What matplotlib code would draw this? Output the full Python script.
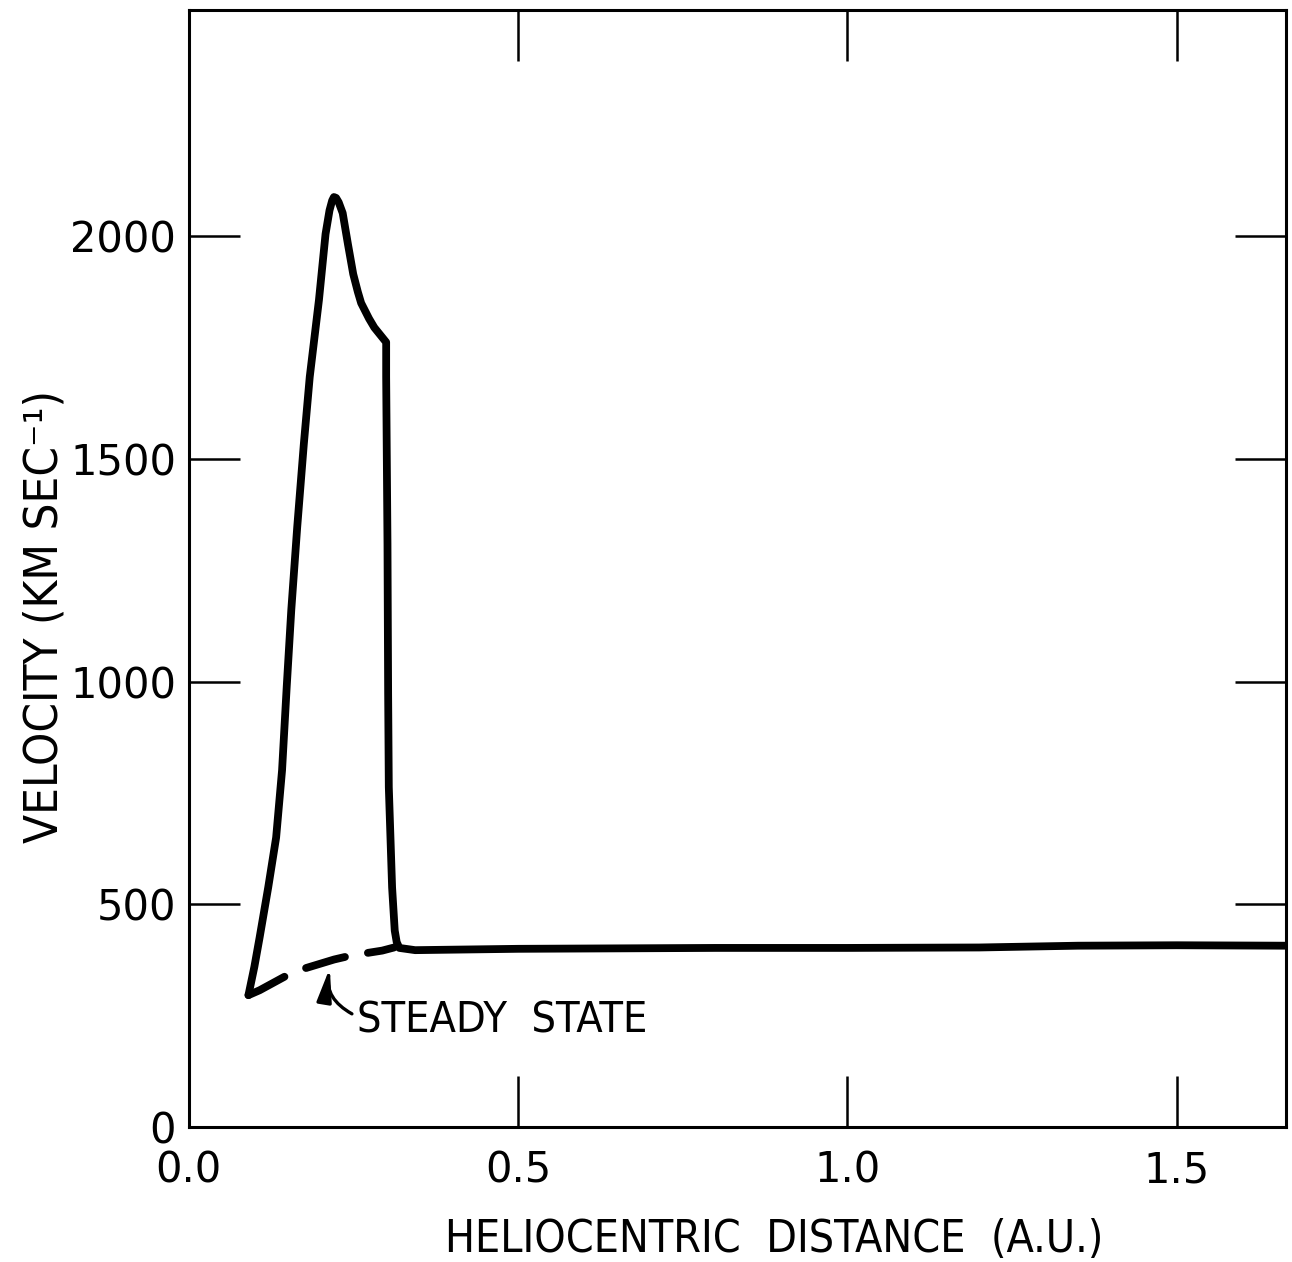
import matplotlib
matplotlib.use("Agg")
import matplotlib.pyplot as plt
from matplotlib import font_manager

# ---- data -------------------------------------------------------------
# Shock-driven disturbance: velocity vs heliocentric distance
dist_au = [0.091, 0.100, 0.108, 0.121, 0.133, 0.142, 0.149, 0.156, 0.165,
           0.175, 0.184, 0.198, 0.208, 0.214, 0.218, 0.2207, 0.224, 0.228,
           0.234, 0.242, 0.250, 0.257, 0.262, 0.274, 0.282, 0.294, 0.300,
           0.300, 0.302, 0.303, 0.304, 0.309, 0.313, 0.316, 0.320, 0.344,
           0.50, 0.80, 1.00, 1.20, 1.35, 1.50, 1.665]
velocity = [296, 360, 426, 538, 650, 801, 987, 1161, 1347,
            1533, 1684, 1857, 2005, 2058, 2080, 2088, 2086, 2076,
            2052, 1982, 1915, 1875, 1850, 1815, 1795, 1773, 1762,
            1684, 1309, 972, 763, 538, 441, 415, 402, 397,
            400, 402, 402, 403, 407, 408, 407]

# Undisturbed (steady state) solar wind profile
steady_au = [0.091, 0.108, 0.149, 0.172, 0.221, 0.247, 0.294, 0.312]
steady_vel = [296, 307, 340, 354, 376, 385, 396, 403]

x_ticks = [0.5, 1.0, 1.5]
x_tick_labels = ["0.0", "0.5", "1.0", "1.5"]
y_ticks = [500, 1000, 1500, 2000]
y_tick_labels = ["0", "500", "1000", "1500", "2000"]

# ---- fonts ------------------------------------------------------------
names = {f.name for f in font_manager.fontManager.ttflist}
if "Liberation Sans Narrow" in names:
    label_family = ["Liberation Sans Narrow", "DejaVu Sans"]
    label_stretch = "normal"
else:
    label_family = ["DejaVu Sans"]
    label_stretch = "condensed"

# ---- figure -----------------------------------------------------------
fig = plt.figure(figsize=(12.92, 12.62), dpi=100)
ax = fig.add_axes([0.1459, 0.1070, 0.8491, 0.8851])

ax.plot(dist_au, velocity, color="black", lw=5.6,
        solid_joinstyle="round", solid_capstyle="round")
ax.plot(steady_au, steady_vel, color="black", lw=5.6,
        dashes=(5.2, 3.0), dash_capstyle="round")

ax.set_xlim(0, 1.665)
ax.set_ylim(0, 2508)

for s in ax.spines.values():
    s.set_linewidth(2.2)

ax.set_xticks([0.0] + x_ticks)
ax.set_xticklabels(x_tick_labels)
ax.set_yticks([0] + y_ticks)
ax.set_yticklabels(y_tick_labels)
ax.tick_params(direction="in", length=37, width=1.8, top=True, right=True,
               labelsize=30, colors="black")
ax.tick_params(axis="x", pad=16)
ax.tick_params(axis="y", pad=9)

# Annotation for the dashed curve
ax.annotate("", xy=(0.2145, 357), xytext=(0.248, 254),
            arrowprops=dict(arrowstyle="-|>,head_length=1.0,head_width=0.22",
                            connectionstyle="arc3,rad=-0.35",
                            lw=2.4, color="black", mutation_scale=20,
                            shrinkA=0, shrinkB=0))
ax.text(0.255, 238, "STEADY  STATE", fontsize=31, family=label_family,
        fontstretch=label_stretch, ha="left", va="center")

ax.set_xlabel("HELIOCENTRIC  DISTANCE  (A.U.)", fontsize=32,
              family=label_family, fontstretch=label_stretch)
ax.xaxis.set_label_coords(0.534, -0.101)
ax.xaxis.label.set_va("center")

ax.set_ylabel("VELOCITY (KM SEC\u207b\u00b9)", fontsize=34,
              family=label_family, fontstretch=label_stretch)
ax.yaxis.set_label_coords(-0.131, 0.457)
ax.yaxis.label.set_va("center")

fig.savefig("out.png", dpi=100, facecolor="white")
